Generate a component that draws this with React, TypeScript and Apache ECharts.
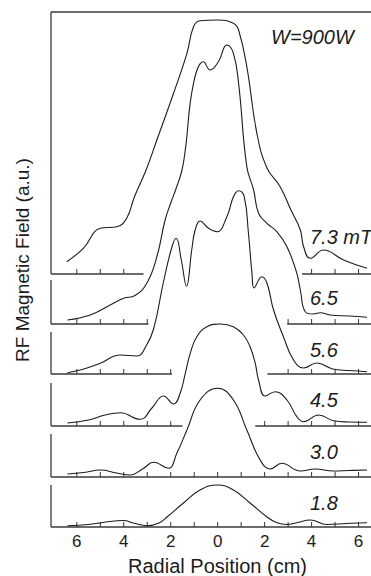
import { useEffect, useRef } from "react";
import * as echarts from "echarts";

// ---- data ----
const fieldLabels = ["1.8", "3.0", "4.5", "5.6", "6.5", "7.3 mT"];
const xLabelValues = [-6, -4, -2, 0, 2, 4, 6];
const tickValues = [-6, -5, -4, -3, -2, -1, 0, 1, 2, 3, 4, 5, 6];

// radial position (cm), field amplitude (a.u.) above each trace's own baseline
const curve18: [number, number][] = [
  [-6.4, 1.2], [-5.5, 2.5], [-4.9, 4.5], [-4.0, 6.5], [-3.6, 4], [-3.0, 1.3], [-2.5, 4],
  [-2.16, 10], [-1.46, 24], [-0.75, 37], [0, 42], [0.67, 37], [1.38, 24], [2.1, 10],
  [2.5, 4.5], [2.95, 2.5], [3.4, 4.5], [3.94, 7], [4.65, 2.5], [5.5, 3.5], [6.36, 4.3],
];
const curve30: [number, number][] = [
  [-6.4, 3], [-5.7, 4.5], [-5.0, 7], [-4.3, 4], [-3.73, 2], [-3.2, 8], [-2.73, 14.7],
  [-2.1, 8.7], [-1.74, 23.7], [-1.31, 47], [-0.75, 77], [0, 88.7], [0.67, 77], [1.24, 47],
  [1.81, 17], [2.24, 8], [2.73, 13.7], [3.52, 6], [4.15, 8], [4.93, 6], [5.6, 6.5], [6.36, 7],
];
const curve45: [number, number][] = [
  [-6.4, 3], [-5.5, 6], [-4.8, 11], [-4.15, 13.3], [-3.3, 6.7], [-2.8, 18], [-2.31, 30],
  [-1.88, 22], [-1.6, 32.7], [-1.38, 52.7], [-1.17, 72.7], [-0.89, 89.3], [-0.46, 99.3],
  [0.1, 102], [0.67, 99.3], [1.1, 91], [1.38, 79.3], [1.6, 62.7], [1.74, 46], [2.02, 30],
  [2.45, 34.3], [2.95, 26], [3.37, 9.3], [3.66, 4.3], [4.3, 11], [4.93, 5.3], [5.6, 4],
  [6.36, 3.7],
];
const curve56: [number, number][] = [
  [-6.4, 1.3], [-5.7, 5], [-5.0, 10.7], [-4.15, 19], [-3.44, 18], [-3.05, 28], [-2.73, 45],
  [-2.31, 92], [-1.95, 127], [-1.77, 135.7], [-1.55, 114], [-1.33, 88], [-1.1, 125],
  [-0.96, 144], [-0.75, 153], [-0.39, 145.7], [-0.03, 142.3], [0.39, 157.3], [0.67, 177.3],
  [0.89, 183.3], [1.13, 177.3], [1.31, 140.7], [1.46, 100.7], [1.55, 86], [1.88, 97.3],
  [2.1, 90.7], [2.38, 64], [2.8, 37.3], [3.23, 14], [3.66, 6], [4.23, 11], [4.9, 5],
  [5.6, 3.5], [6.36, 2.3],
];
const curve65: [number, number][] = [
  [-6.4, 4], [-5.43, 9], [-4.58, 19], [-4.01, 25.7], [-3.52, 28.5], [-3.02, 40.7],
  [-2.59, 67.3], [-2.24, 104], [-2.0, 121], [-1.78, 135], [-1.53, 153], [-1.38, 174],
  [-1.03, 240.7], [-0.6, 262.3], [-0.32, 254], [0.03, 262.3], [0.39, 279], [0.67, 270.7],
  [0.89, 240.7], [1.24, 157.3], [1.53, 134], [1.74, 110.7], [2.1, 100.7], [2.52, 92.3],
  [2.95, 77.3], [3.37, 50.7], [3.52, 34], [3.73, 12.3], [4.08, 10], [4.37, 11.3],
  [4.79, 9], [5.6, 8], [6.36, 6.7],
];
const curve73: [number, number][] = [
  [-6.43, 12.3], [-5.72, 25.7], [-5.0, 45.7], [-4.29, 47.3], [-3.87, 56], [-3.55, 77],
  [-3.05, 104], [-2.59, 134], [-1.88, 180.7], [-1.31, 220.7], [-1.03, 247.3], [-0.75, 253.3],
  [0, 254], [0.67, 250.7], [0.89, 244], [1.24, 207.3], [1.67, 140.7], [2.1, 106],
  [2.66, 87.3], [3.1, 65], [3.52, 44], [3.66, 27.3], [3.94, 15.7], [4.51, 24],
  [5.36, 14], [6.36, 5.7],
];
const curves = [curve18, curve30, curve45, curve56, curve65, curve73];

// ---- layout ----
const X_MIN = -7.1;
const X_MAX = 6.53;
const Y_MAX = 515;
const panelOffsets = [0, 50, 101, 153, 203, 253];
const panelFrameHeights = [42, 43, 43, 42, 44, 262];
const panelGaps: [number, number][][] = [
  [], [], [[-1.5, 1.6]], [[-1.95, 2.12]], [[-2.95, 2.96]], [[-3.16, 3.59]],
];
const labelY = [502.5, 451.7, 400, 349.5, 298, 237];

const FONT = '"Liberation Sans", Arial, Helvetica, sans-serif';
const INK = "#1c1c1c";

export default function App() {
  const ref = useRef<HTMLDivElement>(null);
  useEffect(() => {
    document.body.style.margin = "0";
    const chart = echarts.init(ref.current!, undefined, { renderer: "svg" });

    // baseline segments, left frame lines and ticks as [x1,y1,x2,y2,kind]
    const axisItems: number[][] = [];
    panelOffsets.forEach((off, i) => {
      const gaps = panelGaps[i];
      let start = X_MIN;
      gaps.forEach(([a, b]) => {
        axisItems.push([start, off, a, off, 0]);
        start = b;
      });
      axisItems.push([start, off, X_MAX, off, 0]);
      axisItems.push([X_MIN, off, X_MIN, off + panelFrameHeights[i], 0]);
      tickValues.forEach((t) => {
        const inGap = gaps.some(([a, b]) => t > a && t < b);
        if (!inGap) axisItems.push([t, off, t, off, 1]);
      });
    });
    axisItems.push([X_MIN, Y_MAX, X_MAX, Y_MAX, 0]);

    const series: any[] = curves.map((c, i) => ({
      type: "line",
      data: c.map(([x, v]) => [x, v + panelOffsets[i]]),
      smooth: 0.45,
      symbol: "none",
      clip: false,
      silent: true,
      lineStyle: { color: INK, width: 1.1 },
      z: 3,
    }));
    series.push({
      type: "custom",
      data: axisItems,
      silent: true,
      clip: false,
      z: 2,
      renderItem: (_p: any, api: any) => {
        const p1 = api.coord([api.value(0), api.value(1)]);
        const p2 = api.coord([api.value(2), api.value(3)]);
        const isTick = api.value(4) === 1;
        return {
          type: "line",
          shape: isTick
            ? { x1: p1[0], y1: p1[1], x2: p1[0], y2: p1[1] - 5 }
            : { x1: p1[0], y1: p1[1], x2: p2[0], y2: p2[1] },
          style: { stroke: isTick ? "#333" : "#3a3a3a", lineWidth: isTick ? 1 : 1.3 },
        };
      },
    });

    const labelTexts: any[] = fieldLabels.map((t, i) => ({
      type: "text",
      x: 310,
      y: labelY[i],
      style: {
        text: t,
        font: `italic 20px ${FONT}`,
        fill: INK,
        align: "left",
        verticalAlign: "middle",
        textAlign: "left",
        textVerticalAlign: "middle",
      },
    }));

    chart.setOption({
      animation: false,
      grid: { left: 51, right: 0, top: 12, bottom: 49, containLabel: false },
      xAxis: {
        type: "value",
        min: X_MIN,
        max: X_MAX,
        axisLine: { show: false },
        axisTick: { show: false },
        splitLine: { show: false },
        axisLabel: {
          customValues: xLabelValues,
          formatter: (v: number) => String(Math.abs(v)),
          fontSize: 17,
          fontFamily: FONT,
          color: INK,
          margin: 6,
        },
      },
      yAxis: { type: "value", min: 0, max: Y_MAX, show: false },
      series,
      graphic: [
        ...labelTexts,
        {
          type: "text",
          x: 271,
          y: 36.7,
          style: {
            text: "W=900W",
            font: `italic 20px ${FONT}`,
            fill: INK,
            align: "left",
            verticalAlign: "middle",
            textAlign: "left",
            textVerticalAlign: "middle",
          },
        },
        {
          type: "text",
          x: 22,
          y: 260,
          rotation: Math.PI / 2,
          style: {
            text: "RF Magnetic Field (a.u.)",
            font: `19px ${FONT}`,
            fill: INK,
            align: "center",
            verticalAlign: "middle",
            textAlign: "center",
            textVerticalAlign: "middle",
          },
        },
        {
          type: "text",
          x: 217.5,
          y: 566,
          style: {
            text: "Radial Position (cm)",
            font: `20px ${FONT}`,
            fill: INK,
            align: "center",
            verticalAlign: "middle",
            textAlign: "center",
            textVerticalAlign: "middle",
          },
        },
      ],
    });
    return () => chart.dispose();
  }, []);
  return <div ref={ref} style={{ width: 371, height: 576 }} />;
}
